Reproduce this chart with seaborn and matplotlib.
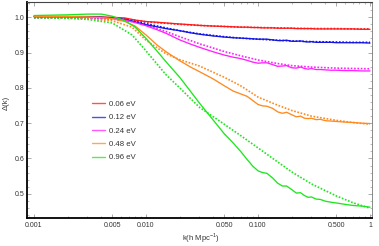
import numpy as np
import pandas as pd
import matplotlib
matplotlib.use("Agg")
import matplotlib.pyplot as plt
import matplotlib.ticker as mticker
import seaborn as sns

# neutrino masses (legend labels) and line colours
masses = ["0.06 eV", "0.12 eV", "0.24 eV", "0.48 eV", "0.96 eV"]
colors = ["#ff1a1a", "#1414e6", "#ff22ff", "#ff8a1e", "#1ee61e"]

# k grid for the full (wiggly) curves
k_full = [0.001, 0.002, 0.003, 0.004, 0.005, 0.0065, 0.008, 0.01, 0.0125, 0.015,
          0.02, 0.025, 0.03, 0.04, 0.05, 0.06, 0.07, 0.08, 0.09, 0.1,
          0.11, 0.12, 0.135, 0.15, 0.165, 0.18, 0.2, 0.22, 0.24, 0.26,
          0.28, 0.3, 0.33, 0.36, 0.4, 0.45, 0.5, 0.6, 0.7, 0.85, 1.0]

full_006 = [1.002, 1.002, 1.002, 1.001, 1.000, 0.998, 0.992, 0.988, 0.986, 0.984,
            0.981, 0.979, 0.977, 0.975, 0.974, 0.973, 0.972, 0.972, 0.971, 0.971,
            0.970, 0.970, 0.970, 0.969, 0.969, 0.969, 0.969, 0.968, 0.968, 0.968,
            0.968, 0.968, 0.967, 0.967, 0.967, 0.967, 0.967, 0.967, 0.967, 0.966, 0.966]
full_012 = [1.002, 1.002, 1.001, 1.000, 0.998, 0.994, 0.987, 0.979, 0.973, 0.968,
            0.962, 0.956, 0.952, 0.947, 0.944, 0.942, 0.941, 0.940, 0.939, 0.938,
            0.938, 0.938, 0.936, 0.934, 0.934, 0.935, 0.932, 0.932, 0.933, 0.931,
            0.930, 0.931, 0.929, 0.929, 0.929, 0.929, 0.928, 0.928, 0.928, 0.928, 0.927]
full_024 = [1.002, 1.001, 1.000, 0.999, 0.997, 0.992, 0.985, 0.976, 0.965, 0.955,
            0.936, 0.924, 0.915, 0.902, 0.893, 0.887, 0.883, 0.878, 0.873, 0.870,
            0.871, 0.871, 0.866, 0.861, 0.862, 0.863, 0.857, 0.856, 0.859, 0.855,
            0.853, 0.855, 0.852, 0.852, 0.851, 0.850, 0.850, 0.849, 0.849, 0.848, 0.848]
full_048 = [1.002, 1.002, 1.001, 0.999, 0.996, 0.988, 0.975, 0.950, 0.922, 0.903,
            0.877, 0.859, 0.846, 0.825, 0.806, 0.791, 0.783, 0.776, 0.764, 0.753,
            0.749, 0.748, 0.742, 0.732, 0.728, 0.731, 0.724, 0.718, 0.720, 0.714,
            0.713, 0.714, 0.710, 0.711, 0.707, 0.706, 0.705, 0.703, 0.702, 0.700, 0.699]
full_096 = [1.005, 1.007, 1.009, 1.009, 1.003, 0.990, 0.972, 0.940, 0.905, 0.875,
            0.830, 0.790, 0.757, 0.708, 0.670, 0.644, 0.620, 0.597, 0.578, 0.565,
            0.560, 0.558, 0.545, 0.530, 0.522, 0.522, 0.512, 0.502, 0.503, 0.495,
            0.490, 0.491, 0.485, 0.484, 0.479, 0.476, 0.474, 0.470, 0.467, 0.465, 0.462]

# k grid for the smooth (dotted) curves
k_smooth = [0.001, 0.002, 0.003, 0.005, 0.0075, 0.01, 0.015, 0.02, 0.03, 0.05,
            0.07, 0.1, 0.15, 0.2, 0.3, 0.5, 0.7, 1.0]

smooth_006 = [1.000, 1.000, 0.999, 0.998, 0.993, 0.987, 0.983, 0.980, 0.977, 0.974,
              0.972, 0.971, 0.970, 0.969, 0.968, 0.968, 0.967, 0.967]
smooth_012 = [0.999, 0.999, 0.998, 0.996, 0.990, 0.982, 0.970, 0.962, 0.953, 0.945,
              0.941, 0.938, 0.935, 0.933, 0.931, 0.930, 0.929, 0.929]
smooth_024 = [1.000, 0.999, 0.998, 0.995, 0.988, 0.978, 0.960, 0.945, 0.925, 0.903,
              0.891, 0.879, 0.869, 0.863, 0.859, 0.856, 0.855, 0.854]
smooth_048 = [1.000, 0.998, 0.996, 0.990, 0.972, 0.935, 0.897, 0.880, 0.862, 0.830,
              0.806, 0.774, 0.751, 0.736, 0.720, 0.708, 0.702, 0.697]
smooth_096 = [0.999, 0.997, 0.994, 0.984, 0.950, 0.905, 0.838, 0.800, 0.745, 0.697,
              0.665, 0.630, 0.590, 0.562, 0.528, 0.494, 0.475, 0.459]

full_vals = [full_006, full_012, full_024, full_048, full_096]
smooth_vals = [smooth_006, smooth_012, smooth_024, smooth_048, smooth_096]

rows_full = []
rows_smooth = []
for m, fv, sv in zip(masses, full_vals, smooth_vals):
    rows_full += [{"k": k, "delta": v, "mass": m} for k, v in zip(k_full, fv)]
    rows_smooth += [{"k": k, "delta": v, "mass": m} for k, v in zip(k_smooth, sv)]
df_full = pd.DataFrame(rows_full)
df_smooth = pd.DataFrame(rows_smooth)

sns.set_style("ticks")
plt.rcParams["font.family"] = ["Liberation Sans", "DejaVu Sans"]
plt.rcParams["mathtext.fontset"] = "custom"
plt.rcParams["mathtext.rm"] = "Liberation Sans"

fig = plt.figure(figsize=(3.79, 2.46), dpi=100)
ax = fig.add_axes([27 / 379, 28 / 246, 345 / 379, 216 / 246])
palette = dict(zip(masses, colors))

sns.lineplot(data=df_smooth, x="k", y="delta", hue="mass", palette=palette,
             linewidth=1.2, linestyle=(0, (1, 1.0)), legend=False, ax=ax)
sns.lineplot(data=df_full, x="k", y="delta", hue="mass", palette=palette,
             linewidth=0.95, ax=ax)

ax.set_xscale("log")
ax.set_xlim(8.66e-4, 1.042)
ax.set_ylim(0.4314, 1.0433)

xt = [0.001, 0.005, 0.01, 0.05, 0.1, 0.5, 1]
ax.set_xticks(xt)
ax.set_xticklabels(["0.001", "0.005", "0.010", "0.050", "0.100", "0.500", "1"])
ax.xaxis.set_minor_locator(mticker.LogLocator(base=10, subs=np.arange(2, 10)))
ax.xaxis.set_minor_formatter(mticker.NullFormatter())
ax.set_yticks([0.5, 0.6, 0.7, 0.8, 0.9, 1.0])
ax.set_yticklabels(["0.5", "0.6", "0.7", "0.8", "0.9", "1.0"])
ax.yaxis.set_minor_locator(mticker.MultipleLocator(0.02))

ax.tick_params(which="both", direction="in", top=True, right=True,
               labelsize=5, labelcolor="#333333", color="#888888")
ax.tick_params(axis="x", pad=3)
ax.tick_params(axis="y", pad=2)
ax.tick_params(which="major", length=3, width=0.5)
ax.tick_params(which="minor", length=1.6, width=0.4)

for side in ["left", "bottom"]:
    ax.spines[side].set_linewidth(1.3)
    ax.spines[side].set_color("black")
ax.spines["top"].set_linewidth(0.8)
ax.spines["top"].set_color("#444444")
ax.spines["right"].set_linewidth(0.6)
ax.spines["right"].set_color("#777777")

ax.set_xlabel("k(h Mpc$^{-1}$)", fontsize=5.5, color="#333333")
ax.set_ylabel("Δ(k)", fontsize=5.5, color="#333333")
ax.xaxis.set_label_coords(0.504, -0.062)
ax.yaxis.set_label_coords(-0.049, 0.532)

leg = ax.legend(loc="upper left", bbox_to_anchor=(64.7 / 345, 1 - 98.5 / 216),
                frameon=False, fontsize=5.6, handlelength=1.7, handletextpad=0.5,
                labelspacing=0.76, borderaxespad=0, borderpad=0)
for t in leg.get_texts():
    t.set_color("#333333")
for h in leg.get_lines():
    h.set_linewidth(1.0)
    h.set_alpha(0.75)

fig.savefig("out.png", dpi=100)
